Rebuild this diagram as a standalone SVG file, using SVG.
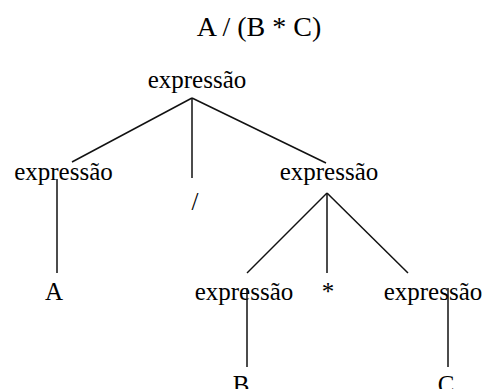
<svg xmlns="http://www.w3.org/2000/svg" width="485" height="389" viewBox="0 0 485 389">
<style>
text{font-size:25px;fill:#000;text-anchor:middle}
.title{font-size:28px}
.edge{stroke:#111;stroke-width:1.5;fill:none}
</style>
<rect width="485" height="389" fill="#fff"/>
<g font-family="Liberation Serif, Times New Roman, serif">
<text class="title" x="259" y="36">A / (B * C)</text>
<g id="root"><text x="197" y="88">expressão</text></g>
<g id="expr-left"><text x="63.5" y="180">expressão</text></g>
<g id="slash"><text x="195" y="210">/</text></g>
<g id="expr-right"><text x="329" y="180">expressão</text></g>
<g id="leafA"><text x="54" y="300">A</text></g>
<g id="expr-B"><text x="244" y="300">expressão</text></g>
<g id="star"><text x="328" y="300">*</text></g>
<g id="expr-C"><text x="433" y="300">expressão</text></g>
<g id="leafB"><text x="241" y="393">B</text></g>
<g id="leafC"><text x="446" y="393">C</text></g>
</g>
<g id="edges">
<line class="edge" x1="192" y1="98" x2="72" y2="162"/>
<line class="edge" x1="192" y1="98" x2="192" y2="178"/>
<line class="edge" x1="192" y1="98" x2="326" y2="163"/>
<line class="edge" x1="57" y1="179" x2="57" y2="273"/>
<line class="edge" x1="327" y1="193" x2="247" y2="273"/>
<line class="edge" x1="327" y1="193" x2="327" y2="273"/>
<line class="edge" x1="327" y1="193" x2="408" y2="273"/>
<line class="edge" x1="247" y1="288" x2="247" y2="367"/>
<line class="edge" x1="448" y1="288" x2="448" y2="367"/>
</g>
</svg>
